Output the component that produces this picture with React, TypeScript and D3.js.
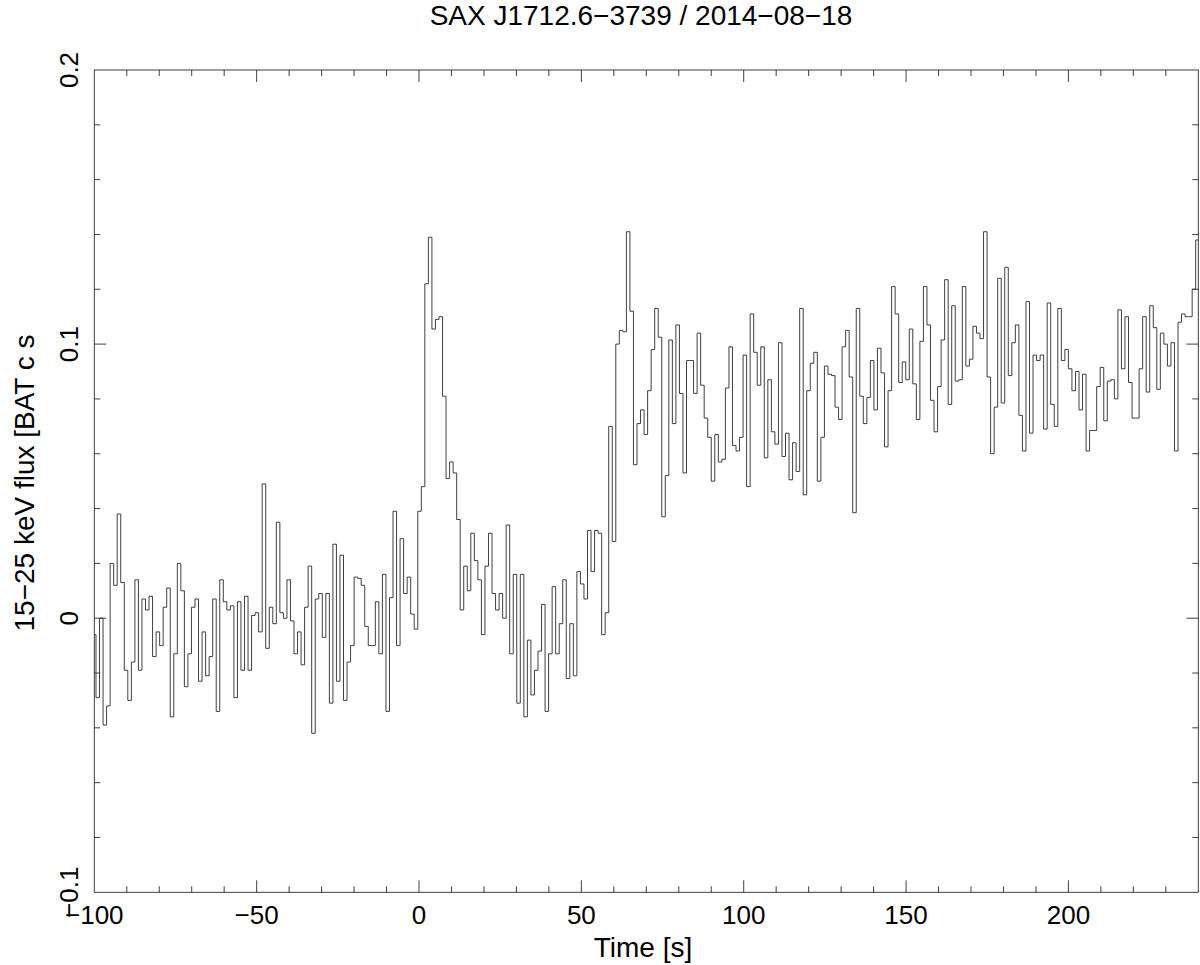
import React, { useMemo } from 'react'
import * as d3 from 'd3'

const title = 'SAX J1712.6\u22123739 / 2014\u221208\u221218'
const xLabel = 'Time [s]'
const yLabel = '15\u221225 keV flux [BAT c s'

const xDomain = [-100, 240]
const yDomain = [-0.1, 0.2]
const xMajorTicks = [-100, -50, 0, 50, 100, 150, 200]
const xMinorTicks = d3.range(-10, 25).map(k => k * 10)
const yMajorTicks = [-0.1, 0, 0.1, 0.2]
const yMinorTicks = d3.range(-5, 11).map(k => k * 0.02)

// light curve bins (start time, width in s) and rates
const binStart = -100.57
const binWidth = 1.089
const flux = [
  -0.006, -0.029, 0.000, -0.039, -0.032, 0.020, 0.012, 0.038, 0.013, -0.019,
  -0.030, -0.016, 0.014, -0.019, 0.007, 0.003, 0.008, -0.014, -0.005, -0.010,
  0.004, 0.011, -0.036, -0.013, 0.020, 0.010, -0.025, -0.013, 0.004, 0.007,
  -0.023, -0.005, -0.021, -0.014, 0.007, -0.034, 0.014, 0.006, 0.003, 0.0045,
  -0.029, 0.006, -0.019, 0.008, -0.019, 0.001, 0.002, -0.005, 0.049, -0.011,
  0.004, -0.002, 0.035, 0.002, 0.000, 0.014, -0.001, -0.013, -0.005, -0.017,
  0.004, 0.019, -0.042, 0.007, 0.009, -0.007, 0.009, -0.031, 0.027, -0.023,
  0.023, -0.030, -0.016, -0.010, 0.015, 0.0145, 0.012, -0.003, -0.010, -0.010,
  0.006, -0.013, 0.016, -0.034, 0.0075, 0.039, -0.010, 0.029, 0.009, 0.015,
  0.0015, -0.004, 0.039, 0.048, 0.122, 0.139, 0.1055, 0.109, 0.110, 0.081,
  0.051, 0.057, 0.053, 0.036, 0.003, 0.019, 0.010, 0.031, 0.021, 0.014,
  -0.006, 0.019, 0.031, 0.009, 0.003, 0.009, 0.000, 0.034, -0.013, 0.016,
  -0.031, 0.016, -0.036, -0.008, -0.028, -0.019, -0.012, 0.005, -0.034, -0.013,
  0.0115, -0.013, -0.002, 0.014, -0.022, -0.002, -0.021, 0.017, 0.0125, 0.007,
  0.032, 0.017, 0.032, 0.031, -0.006, 0.002, 0.070, 0.028, 0.100, 0.105,
  0.1045, 0.141, 0.112, 0.056, 0.071, 0.076, 0.067, 0.083, 0.098, 0.113,
  0.1025, 0.037, 0.052, 0.1015, 0.071, 0.107, 0.082, 0.053, 0.094, 0.094,
  0.082, 0.104, 0.085, 0.073, 0.066, 0.050, 0.067, 0.057, 0.058, 0.084,
  0.099, 0.063, 0.061, 0.066, 0.096, 0.048, 0.111, 0.097, 0.085, 0.099,
  0.0585, 0.087, 0.068, 0.0635, 0.1005, 0.059, 0.0675, 0.0505, 0.064, 0.0535,
  0.113, 0.045, 0.083, 0.093, 0.097, 0.050, 0.066, 0.092, 0.089, 0.0885,
  0.077, 0.0725, 0.099, 0.105, 0.088, 0.0385, 0.113, 0.081, 0.071, 0.0805,
  0.094, 0.076, 0.0985, 0.0895, 0.0625, 0.083, 0.121, 0.111, 0.086, 0.0935,
  0.087, 0.1055, 0.0855, 0.0725, 0.101, 0.121, 0.107, 0.0795, 0.068, 0.0845,
  0.1015, 0.1235, 0.078, 0.114, 0.0865, 0.087, 0.121, 0.092, 0.0945, 0.1065,
  0.104, 0.102, 0.141, 0.088, 0.060, 0.077, 0.124, 0.0785, 0.128, 0.0885,
  0.1005, 0.107, 0.074, 0.061, 0.1155, 0.0675, 0.096, 0.094, 0.096, 0.069,
  0.115, 0.078, 0.070, 0.113, 0.094, 0.098, 0.091, 0.083, 0.090, 0.076,
  0.089, 0.061, 0.0685, 0.0685, 0.0845, 0.0915, 0.072, 0.0865, 0.087, 0.080,
  0.1125, 0.091, 0.110, 0.086, 0.073, 0.073, 0.091, 0.110, 0.0825, 0.114,
  0.106, 0.0835, 0.104, 0.100, 0.092, 0.1005, 0.061, 0.108, 0.111, 0.110,
  0.110, 0.120, 0.138
]

function fmtTick(v: number) {
  const s = String(Math.round(v * 1000) / 1000)
  return v < 0 ? '\u2212' + s.slice(1) : s
}

export default function App() {
  const width = 1200
  const height = 965
  const plot = { left: 94.3, right: 1198.3, top: 70, bottom: 892.3 }
  const font = '"Liberation Sans", Arial, Helvetica, sans-serif'
  const ink = '#2a2a2a'

  const chart = useMemo(() => {
    const x = d3.scaleLinear().domain(xDomain).range([plot.left, plot.right])
    const y = d3.scaleLinear().domain(yDomain).range([plot.bottom, plot.top])
    const pts: [number, number][] = flux.map((v, i) => [binStart + i * binWidth, v])
    pts.push([binStart + flux.length * binWidth, flux[flux.length - 1]])
    const line = d3.line<[number, number]>()
      .x(d => x(d[0]))
      .y(d => y(d[1]))
      .curve(d3.curveStepAfter)
    return { x, y, path: line(pts) }
  }, [])

  const { x, y } = chart
  const minorLen = 6
  const majorLen = 12

  return (
    <svg width={width} height={height} viewBox={`0 0 ${width} ${height}`} style={{ display: 'block' }}>
      <style>{`body{margin:0;background:#fff}`}</style>
      <rect x={0} y={0} width={width} height={height} fill="#fff" />
      <defs>
        <clipPath id="plotArea">
          <rect x={plot.left} y={plot.top} width={plot.right - plot.left} height={plot.bottom - plot.top} />
        </clipPath>
      </defs>

      {chart.path && (
        <path d={chart.path} fill="none" stroke={ink} strokeWidth={0.9} clipPath="url(#plotArea)" />
      )}

      {/* x ticks, bottom and top */}
      {xMinorTicks.filter(t => t > xDomain[0] && t < xDomain[1]).map(t => {
        const len = xMajorTicks.includes(t) ? majorLen : minorLen
        return (
          <g key={`xt_${t}`} stroke={ink} strokeWidth={0.9}>
            <line x1={x(t)} x2={x(t)} y1={plot.bottom} y2={plot.bottom - len} />
            <line x1={x(t)} x2={x(t)} y1={plot.top} y2={plot.top + len} />
          </g>
        )
      })}

      {/* y ticks, left and right */}
      {yMinorTicks.filter(t => t > yDomain[0] + 1e-9 && t < yDomain[1] - 1e-9).map(t => {
        const major = yMajorTicks.some(m => Math.abs(m - t) < 1e-9)
        const len = major ? majorLen : minorLen
        return (
          <g key={`yt_${t}`} stroke={ink} strokeWidth={0.9}>
            <line x1={plot.left} x2={plot.left + len} y1={y(t)} y2={y(t)} />
            <line x1={plot.right} x2={plot.right - len} y1={y(t)} y2={y(t)} />
          </g>
        )
      })}

      <rect x={plot.left} y={plot.top} width={plot.right - plot.left} height={plot.bottom - plot.top}
        fill="none" stroke={ink} strokeWidth={0.9} />

      {xMajorTicks.map(t => (
        <text key={`xl_${t}`} x={x(t)} y={923.5} textAnchor="middle" fontFamily={font} fontSize={26} fill="#000">
          {fmtTick(t)}
        </text>
      ))}

      {yMajorTicks.map(t => (
        <text key={`yl_${t}`} transform={`translate(78,${y(t)}) rotate(-90)`} textAnchor="middle"
          fontFamily={font} fontSize={26} fill="#000">
          {fmtTick(t)}
        </text>
      ))}

      <text x={641} y={25} textAnchor="middle" fontFamily={font} fontSize={28} fill="#000">{title}</text>
      <text x={643} y={956.5} textAnchor="middle" fontFamily={font} fontSize={28} fill="#000">{xLabel}</text>
      <text transform="translate(34,483) rotate(-90)" textAnchor="middle" fontFamily={font} fontSize={28} fill="#000">
        {yLabel}
      </text>
    </svg>
  )
}
